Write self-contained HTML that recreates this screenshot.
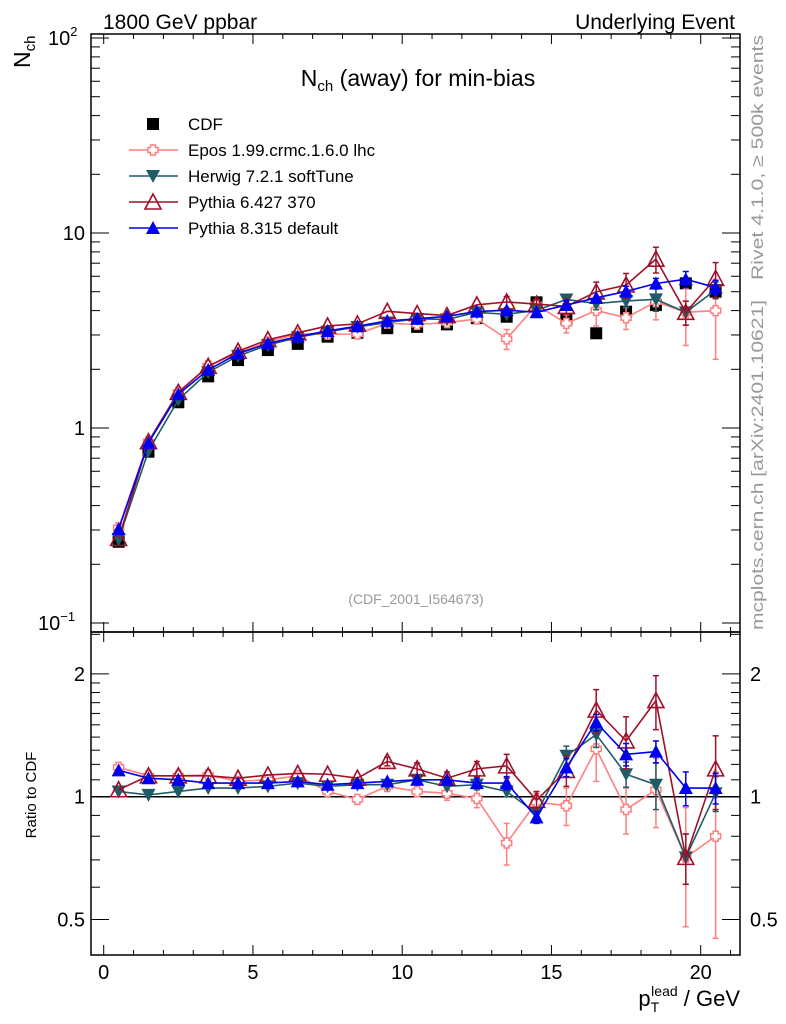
<!DOCTYPE html>
<html><head><meta charset="utf-8">
<style>
body{margin:0;background:#fff;}
svg{display:block;font-family:"Liberation Sans",sans-serif;}
</style></head>
<body>
<svg id="chart" width="786" height="1024" viewBox="0 0 786 1024" xmlns="http://www.w3.org/2000/svg">
<text x="103" y="29" font-size="21">1800 GeV ppbar</text>
<text x="735" y="29" font-size="21" text-anchor="end">Underlying Event</text>
<text transform="translate(30,68) rotate(-90)" font-size="23">N<tspan font-size="15" dy="5">ch</tspan></text>
<text x="418" y="86" font-size="23" text-anchor="middle">N<tspan font-size="15" dy="5">ch</tspan><tspan dy="-5"> (away) for min-bias</tspan></text>
<text x="416" y="604" font-size="14" fill="#999" text-anchor="middle">(CDF_2001_I564673)</text>
<text transform="translate(763,280) rotate(-90)" font-size="17" fill="#999" textLength="245" lengthAdjust="spacingAndGlyphs">Rivet 4.1.0, ≥ 500k events</text>
<text transform="translate(763,630) rotate(-90)" font-size="17" fill="#999" textLength="330" lengthAdjust="spacingAndGlyphs">mcplots.cern.ch [arXiv:2401.10621]</text>
<text transform="translate(36,795) rotate(-90)" font-size="15" text-anchor="middle">Ratio to CDF</text>
<text x="740" y="1006" font-size="22" text-anchor="end">p<tspan font-size="14" dy="6">T</tspan><tspan font-size="14" dy="-16" dx="-8">lead</tspan><tspan dy="10"> / GeV</tspan></text>
<g id="plot"></g>
</svg>
<script>
const xCenters=[0.5,1.5,2.5,3.5,4.5,5.5,6.5,7.5,8.5,9.5,10.5,11.5,12.5,13.5,14.5,15.5,16.5,17.5,18.5,19.5,20.5];
const cdfValues=[0.261,0.756,1.355,1.84,2.23,2.51,2.70,2.94,3.08,3.25,3.30,3.40,3.66,3.72,4.41,3.62,3.06,3.95,4.27,5.52,5.0];
const eposRatio=[1.18,1.125,1.125,1.13,1.09,1.10,1.125,1.03,0.985,1.06,1.03,1.02,0.99,0.77,0.97,0.95,1.31,0.93,1.04,0.71,0.80];
const eposErr=[0.02,0.01,0.01,0.01,0.01,0.01,0.01,0.02,0.02,0.03,0.03,0.04,0.05,0.09,0.05,0.1,0.22,0.12,0.2,0.23,0.35];
const herwigRatio=[1.03,1.01,1.03,1.05,1.05,1.06,1.08,1.06,1.07,1.07,1.10,1.06,1.07,1.03,0.91,1.26,1.42,1.135,1.07,0.71,1.02];
const herwigErr=[0.01,0.01,0.01,0.01,0.01,0.01,0.01,0.01,0.02,0.02,0.02,0.02,0.03,0.03,0.03,0.07,0.1,0.08,0.14,0.1,0.1];
const py6Ratio=[1.04,1.125,1.125,1.125,1.11,1.13,1.14,1.135,1.11,1.22,1.17,1.11,1.17,1.19,0.98,1.16,1.63,1.37,1.72,0.71,1.17];
const py6Err=[0.01,0.01,0.02,0.02,0.02,0.02,0.02,0.02,0.02,0.03,0.04,0.04,0.05,0.08,0.05,0.1,0.2,0.2,0.26,0.1,0.24];
const py8Ratio=[1.16,1.11,1.10,1.08,1.08,1.08,1.09,1.07,1.08,1.09,1.10,1.10,1.08,1.08,0.89,1.18,1.52,1.27,1.29,1.05,1.05];
const py8Err=[0.01,0.01,0.01,0.01,0.01,0.01,0.01,0.01,0.01,0.02,0.02,0.02,0.03,0.04,0.03,0.06,0.07,0.08,0.08,0.1,0.09];
const xTicks=[0,5,10,15,20];

const NS="http://www.w3.org/2000/svg";
const g=document.getElementById('plot');
const L=91,R=740,T=34,M=632,B=955;
const X=v=>103.7+(v)*29.85;
const Ymain=v=>428-195*Math.log10(v);
const Yrat=v=>796.7-408*Math.log10(v);
function mk(tag,attrs,parent){const e=document.createElementNS(NS,tag);for(const k in attrs)e.setAttribute(k,attrs[k]);(parent||g).appendChild(e);return e;}

let f1=mk('rect',{x:L,y:T,width:R-L,height:M-T,fill:'none',stroke:'#000','stroke-width':1.5});


let f2=mk('rect',{x:L,y:M,width:R-L,height:B-M,fill:'none',stroke:'#000','stroke-width':1.5});



for(let v=0;v<=21;v+=1){
  const x=X(v);const maj=v%5===0;const len=maj?10:5;
  mk('line',{x1:x,x2:x,y1:B,y2:B-len,stroke:'#000'});
  mk('line',{x1:x,x2:x,y1:M,y2:M-len,stroke:'#000'});
  mk('line',{x1:x,x2:x,y1:M,y2:M+len,stroke:'#000'});
  mk('line',{x1:x,x2:x,y1:T,y2:T+len,stroke:'#000'});
}
xTicks.forEach(v=>{const t=mk('text',{x:X(v),y:979,'font-size':20,'text-anchor':'middle'});t.textContent=v;

});

for(let d=-1;d<=2;d++){for(let m=1;m<=9;m++){const v=m*Math.pow(10,d);const y=Ymain(v);if(y<T||y>M)continue;const len=m===1?18:9;
mk('line',{x1:L,x2:L+len,y1:y,y2:y,stroke:'#000'});mk('line',{x1:R,x2:R-len,y1:y,y2:y,stroke:'#000'});}}
const yLabs=[[100,'10','2'],[10,'10',''],[1,'1',''],[0.1,'10','−1']];
yLabs.forEach(a=>{const t=mk('text',{x:85,y:Ymain(a[0])+7,'font-size':20,'text-anchor':'end'});t.textContent=a[1];
if(a[2]){const s=mk('tspan',{'font-size':13,dy:-9},t);s.textContent=a[2];t.setAttribute('text-anchor','start');t.setAttribute('x',a[2].length>1?38:48);}

});

[0.3,0.4,0.5,0.6,0.7,0.8,0.9,1,1.1,1.2,1.3,1.4,1.5,1.6,1.7,1.8,1.9,2,2.5].forEach(v=>{const y=Yrat(v);if(y<M||y>B)return;const maj=(v===0.5||v===1||v===2);const len=maj?18:9;
mk('line',{x1:L,x2:L+len,y1:y,y2:y,stroke:'#000'});mk('line',{x1:R,x2:R-len,y1:y,y2:y,stroke:'#000'});});
[[2,'2'],[1,'1'],[0.5,'0.5']].forEach(a=>{
 const t=mk('text',{x:85,y:Yrat(a[0])+7,'font-size':20,'text-anchor':'end'});t.textContent=a[1];
 
 
 const t2=mk('text',{x:750,y:Yrat(a[0])+7,'font-size':20});t2.textContent=a[1];
 
 });
const one=mk('line',{x1:L,x2:R,y1:Yrat(1),y2:Yrat(1),stroke:'#000','stroke-width':1.5});



function marker(type,color,x,y,parent){
 if(type==='square')return mk('rect',{x:x-6,y:y-6,width:12,height:12,fill:'#000'},parent);
 if(type==='cross'){const s=2.5,t=5;return mk('polygon',{points:[[x-s,y-t],[x+s,y-t],[x+s,y-s],[x+t,y-s],[x+t,y+s],[x+s,y+s],[x+s,y+t],[x-s,y+t],[x-s,y+s],[x-t,y+s],[x-t,y-s],[x-s,y-s]].map(p=>p.join(',')).join(' '),fill:'#fff',stroke:color,'stroke-width':1.5},parent);}
 if(type==='down')return mk('polygon',{points:`${x-7},${y-6} ${x+7},${y-6} ${x},${y+7}`,fill:color},parent);
 if(type==='open')return mk('polygon',{points:`${x-8},${y+7} ${x+8},${y+7} ${x},${y-8}`,fill:'none',stroke:color,'stroke-width':1.6},parent);
 return mk('polygon',{points:`${x-7},${y+6} ${x+7},${y+6} ${x},${y-7}`,fill:color},parent);
}
const series=[
 {name:'epos',ratio:eposRatio,err:eposErr,color:'#ff7f7f',type:'cross'},
 {name:'herwig',ratio:herwigRatio,err:herwigErr,color:'#1f5c66',type:'down'},
 {name:'pythia6',ratio:py6Ratio,err:py6Err,color:'#a0102a',type:'open'},
 {name:'pythia8',ratio:py8Ratio,err:py8Err,color:'#0000ee',type:'up'}];

const cg=mk('g',{});


xCenters.forEach((xv,i)=>{const m=marker('square','#000',X(xv),Ymain(cdfValues[i]),cg);

});

series.forEach(s=>{
 const sg=mk('g',{});
 
 
 const rg=mk('g',{});
 
 
 const pm=[],pr=[];
 xCenters.forEach((xv,i)=>{const v=cdfValues[i]*s.ratio[i];pm.push([X(xv),Ymain(v)]);pr.push([X(xv),Yrat(s.ratio[i])]);});
 mk('polyline',{points:pm.map(p=>p.join(',')).join(' '),fill:'none',stroke:s.color,'stroke-width':1.6},sg);
 mk('polyline',{points:pr.map(p=>p.join(',')).join(' '),fill:'none',stroke:s.color,'stroke-width':1.6},rg);
 xCenters.forEach((xv,i)=>{
  const r=s.ratio[i],e=s.err[i],c=cdfValues[i],x=X(xv);
  [[Ymain(c*(r+e)),Ymain(c*Math.max(r-e,0.01)),sg],[Yrat(r+e),Yrat(Math.max(r-e,0.01)),rg]].forEach(a=>{
   if(Math.abs(a[1]-a[0])>8){mk('line',{x1:x,x2:x,y1:a[0],y2:a[1],stroke:s.color,'stroke-width':1.5},a[2]);
    mk('line',{x1:x-3,x2:x+3,y1:a[0],y2:a[0],stroke:s.color,'stroke-width':1.5},a[2]);
    mk('line',{x1:x-3,x2:x+3,y1:a[1],y2:a[1],stroke:s.color,'stroke-width':1.5},a[2]);}
  });
  const m1=marker(s.type,s.color,x,Ymain(c*r),sg);
  
  
  const m2=marker(s.type,s.color,x,Yrat(r),rg);
  
  
 });
});

const legNames=['CDF','Epos 1.99.crmc.1.6.0 lhc','Herwig 7.2.1 softTune','Pythia 6.427 370','Pythia 8.315 default'];
const legTypes=[['square','#000'],['cross','#ff7f7f'],['down','#1f5c66'],['open','#a0102a'],['up','#0000ee']];
legNames.forEach((n,i)=>{
 const y=124+i*26;
 const lg=mk('g',{});
 
 
 if(i>0)mk('line',{x1:129,x2:178,y1:y,y2:y,stroke:legTypes[i][1],'stroke-width':1.6},lg);
 marker(legTypes[i][0],legTypes[i][1],153,y,lg);
 const t=mk('text',{x:188,y:y+6,'font-size':17},lg);t.textContent=n;
});
</script>
</body></html>
